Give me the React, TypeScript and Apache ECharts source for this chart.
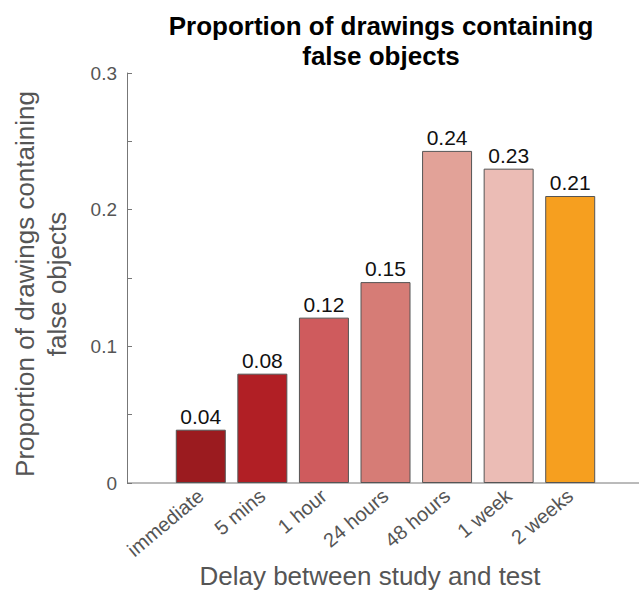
import React, { useEffect, useRef } from "react";
import * as echarts from "echarts";

const categories = ["immediate", "5 mins", "1 hour", "24 hours", "48 hours", "1 week", "2 weeks"];
const values = [0.039, 0.080, 0.121, 0.147, 0.243, 0.230, 0.210];
const barColors = ["#9b1b1f", "#b11f25", "#cf5b5d", "#d67c76", "#e2a298", "#ebbcb5", "#f69f1f"];
const yTicks = [0, 0.1, 0.2, 0.3];

const FONT = "'Liberation Sans', Arial, Helvetica, sans-serif";

export default function App() {
  const ref = useRef<HTMLDivElement>(null);
  useEffect(() => {
    document.body.style.margin = "0";
    const chart = echarts.init(ref.current!, null, { renderer: "svg" });
    chart.setOption({
      animation: false,
      backgroundColor: "#ffffff",
      title: {
        text: "Proportion of drawings containing\nfalse objects",
        left: 376,
        top: 6,
        textAlign: "center",
        textStyle: { fontFamily: FONT, fontSize: 26, fontWeight: "bold", color: "#000", lineHeight: 30 },
      },
      grid: { left: 170, right: 38, top: 73, bottom: 108, containLabel: false },
      xAxis: {
        type: "category",
        data: categories,
        axisLine: { show: false },
        axisTick: { show: false },
        axisLabel: {
          rotate: 40,
          margin: 10,
          fontFamily: FONT,
          fontSize: 20,
          color: "#555",
          interval: 0,
        },
      },
      yAxis: {
        type: "value",
        min: 0,
        max: 0.3,
        interval: 0.05,
        offset: 43,
        splitLine: { show: false },
        axisLine: { show: true, lineStyle: { color: "#777", width: 1 } },
        axisTick: { show: true, inside: true, length: 5, lineStyle: { color: "#777" } },
        axisLabel: {
          margin: 10,
          fontFamily: FONT,
          fontSize: 19,
          color: "#555",
          formatter: (v: number) => {
            const hit = yTicks.find((t) => Math.abs(t - v) < 1e-9);
            return hit === undefined ? "" : String(hit);
          },
        },
      },
      graphic: [
        {
          type: "line",
          shape: { x1: 127, y1: 483, x2: 639, y2: 483 },
          style: { stroke: "#777", lineWidth: 1 },
        },
        {
          type: "text",
          x: 25,
          y: 284,
          rotation: Math.PI / 2,
          style: {
            text: "Proportion of drawings containing",
            fontFamily: FONT,
            fontSize: 26,
            fill: "#555",
            align: "center",
            verticalAlign: "middle",
          },
        },
        {
          type: "text",
          x: 57,
          y: 284,
          rotation: Math.PI / 2,
          style: {
            text: "false objects",
            fontFamily: FONT,
            fontSize: 26,
            fill: "#555",
            align: "center",
            verticalAlign: "middle",
          },
        },
        {
          type: "text",
          x: 370,
          y: 576,
          style: {
            text: "Delay between study and test",
            fontFamily: FONT,
            fontSize: 26,
            fill: "#555",
            align: "center",
            verticalAlign: "middle",
          },
        },
      ],
      series: [
        {
          type: "bar",
          barWidth: 50,
          data: values.map((v, i) => ({
            value: v,
            itemStyle: { color: barColors[i], borderColor: "#555", borderWidth: 1 },
          })),
          label: {
            show: true,
            position: "top",
            distance: 3,
            fontFamily: FONT,
            fontSize: 21,
            color: "#111",
            formatter: (p: any) => (p.value as number).toFixed(2),
          },
        },
      ],
    });
    return () => chart.dispose();
  }, []);
  return <div ref={ref} style={{ width: 639, height: 591 }} />;
}
